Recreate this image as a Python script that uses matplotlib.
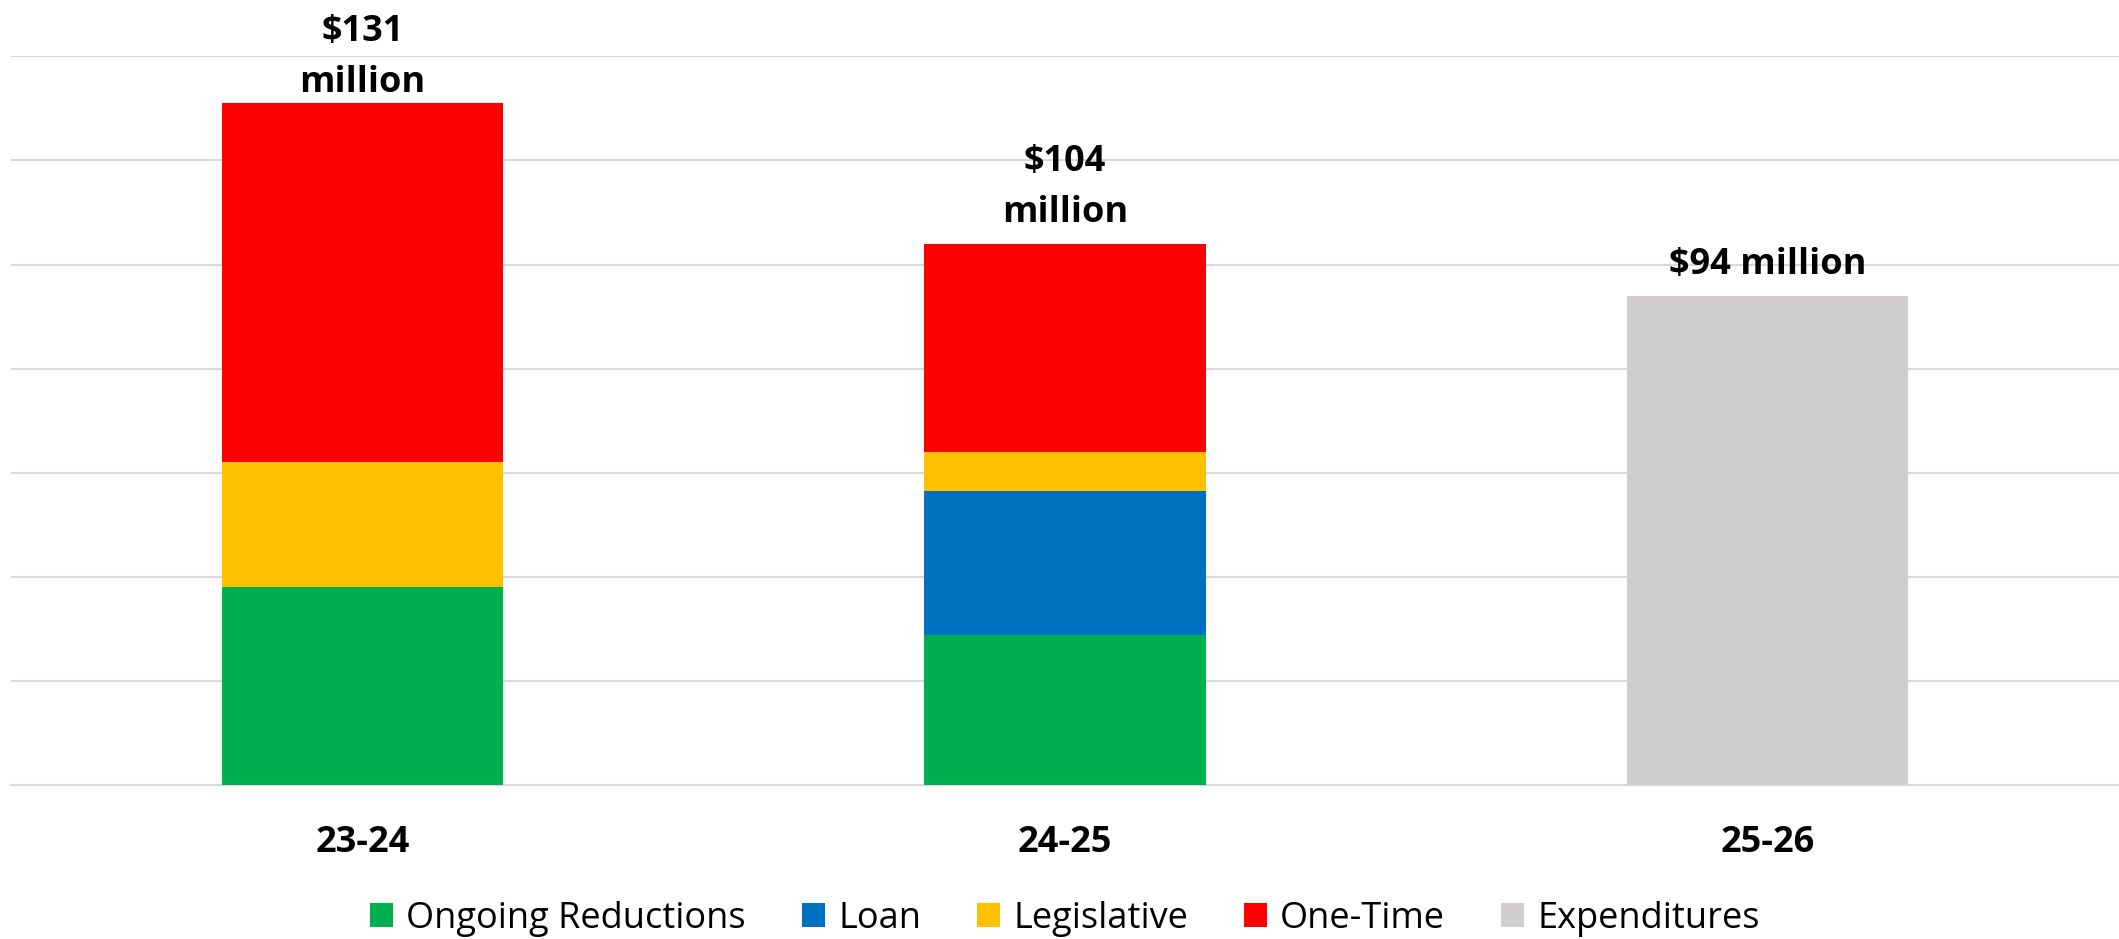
import numpy as np
import matplotlib
matplotlib.use("Agg")
import matplotlib.pyplot as plt
from matplotlib.patches import Patch

# données (millions $)
annees = ["23-24", "24-25", "25-26"]
ongoing = [38, 28.8, 0]
loan = [0, 27.6, 0]
legislative = [24, 7.6, 0]
one_time = [69, 40, 0]
expenditures = [0, 0, 94]
etiquettes = ["$131\nmillion", "$104\nmillion", "$94 million"]

series = [
    ("Ongoing Reductions", ongoing, "#00B050"),
    ("Loan", loan, "#0070C0"),
    ("Legislative", legislative, "#FFC000"),
    ("One-Time", one_time, "#FF0000"),
    ("Expenditures", expenditures, "#D0CECE"),
]

plt.rcParams["font.family"] = ["Open Sans", "DejaVu Sans"]

fig = plt.figure(figsize=(21.19, 9.39), dpi=100)
ax = fig.add_axes([11 / 2119, 1 - 785 / 939, 1 - 11 / 2119, (785 - 56.3) / 939])

x = np.arange(len(annees))
bas = np.zeros(len(annees))
for nom, vals, couleur in series:
    vals = np.array(vals, dtype=float)
    ax.bar(x, vals, 0.4, bottom=bas, color=couleur, zorder=3)
    bas += vals

# décalage vertical des étiquettes (en points), comme dans l'original
decalages = [1.5, 9, 9]
for xi, total, txt, d in zip(x, bas, etiquettes, decalages):
    ax.annotate(txt, (xi, total), xytext=(0, d), textcoords="offset points",
                ha="center", va="bottom", fontsize=26, fontweight="bold",
                linespacing=1.55)

ax.set_xlim(-0.5, 2.5)
ax.set_ylim(0, 140)
ax.set_yticks(np.arange(0, 141, 20))
ax.yaxis.grid(True, color="#D9D9D9", linewidth=1.5, zorder=0)
ax.set_yticklabels([])
ax.tick_params(axis="y", length=0)
ax.set_xticks(x)
ax.set_xticklabels(annees, fontsize=26, fontweight="bold")
ax.tick_params(axis="x", length=0, pad=29)
for s in ["top", "right", "left"]:
    ax.spines[s].set_visible(False)
ax.spines["bottom"].set_color("#D9D9D9")
ax.spines["bottom"].set_linewidth(1.5)
ax.set_axisbelow(True)

poignees = [Patch(facecolor=c, label=n) for n, v, c in series]
fig.legend(handles=poignees, loc="center", bbox_to_anchor=(1065 / 2119, 1 - 919 / 939),
           ncol=5, frameon=False, fontsize=26, handlelength=0.64, handleheight=0.64,
           handletextpad=0.36, columnspacing=1.55)

fig.savefig("out.png", dpi=100)
